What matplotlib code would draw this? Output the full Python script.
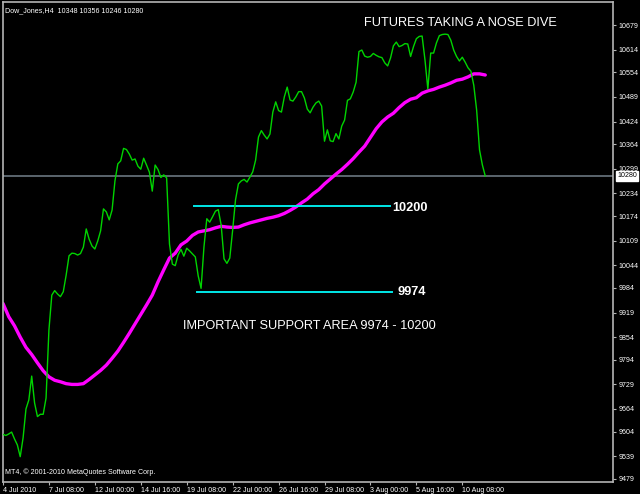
import matplotlib
matplotlib.use('Agg')
import matplotlib.pyplot as plt
import numpy as np

# H4 closes, one per bar
closes = [9597, 9594, 9598, 9603, 9585, 9569, 9538, 9588, 9664, 9688,
          9751, 9680, 9644, 9650, 9650, 9693, 9873, 9965, 9977, 9968,
          9961, 9974, 10018, 10069, 10076, 10075, 10071, 10075, 10092, 10140,
          10113, 10095, 10087, 10108, 10135, 10193, 10185, 10164, 10190, 10267,
          10312, 10320, 10353, 10350, 10338, 10322, 10325, 10306, 10298, 10327,
          10309, 10290, 10240, 10309, 10297, 10276, 10283, 10275, 10100, 10047,
          10043, 10071, 10086, 10068, 10089, 10082, 10074, 10066, 10016, 9983,
          10092, 10167, 10158, 10172, 10187, 10191, 10150, 10061, 10049, 10063,
          10137, 10217, 10259, 10267, 10271, 10264, 10277, 10291, 10322, 10383,
          10400, 10388, 10378, 10391, 10449, 10476, 10453, 10449, 10489, 10515,
          10481, 10478, 10489, 10503, 10503, 10486, 10457, 10447, 10462, 10473,
          10478, 10465, 10372, 10402, 10373, 10371, 10392, 10378, 10412, 10428,
          10480, 10484, 10502, 10528, 10609, 10613, 10597, 10594, 10596, 10604,
          10599, 10595, 10593, 10579, 10571, 10592, 10624, 10634, 10622, 10625,
          10630, 10629, 10596, 10622, 10643, 10649, 10650, 10587, 10510, 10605,
          10605, 10632, 10651, 10654, 10655, 10654, 10639, 10613, 10596, 10584,
          10594, 10581, 10566, 10557, 10520, 10454, 10349, 10309, 10280]

# moving average, sampled every 2 bars
ma_bars = list(range(0, 169, 2))
ma_values = [9943, 9908, 9884, 9854, 9827, 9808, 9786, 9765, 9749, 9740,
             9736, 9731, 9729, 9729, 9731, 9742, 9754, 9766, 9780, 9798,
             9817, 9840, 9864, 9889, 9914, 9939, 9965, 10000, 10032, 10063,
             10076, 10098, 10108, 10123, 10132, 10135, 10138, 10143, 10147, 10145,
             10144, 10145, 10151, 10156, 10160, 10164, 10168, 10171, 10175, 10181,
             10189, 10198, 10209, 10219, 10233, 10244, 10259, 10272, 10285, 10297,
             10311, 10326, 10343, 10359, 10382, 10405, 10423, 10436, 10446, 10461,
             10474, 10483, 10487, 10499, 10505, 10509, 10515, 10520, 10526, 10533,
             10536, 10542, 10550, 10550, 10547]

support_levels = [10200, 9974]
support_start = [66.5, 67.7]
support_end = [134.8, 135.5]

last_price = 10280

price_ticks = [10679, 10614, 10554, 10489, 10424, 10364, 10299, 10234, 10174, 10109,
               10044, 9984, 9919, 9854, 9794, 9729, 9664, 9604, 9539, 9479]
time_tick_bars = [0, 16, 32, 48, 64, 80, 96, 112, 128, 144, 160]
time_tick_labels = ['4 Jul 2010', '7 Jul 08:00', '12 Jul 00:00', '14 Jul 16:00',
                    '19 Jul 08:00', '22 Jul 00:00', '26 Jul 16:00', '29 Jul 08:00',
                    '3 Aug 00:00', '5 Aug 16:00', '10 Aug 08:00']

small = {'family': 'Liberation Sans', 'size': 5.1}
big = {'family': 'Liberation Sans', 'size': 9.2}

fig = plt.figure(figsize=(6.4, 4.94), dpi=100, facecolor='black')
ax = fig.add_axes([3 / 640, 12 / 494, 610 / 640, 480 / 494], facecolor='black')

ax.axhline(last_price, color='#6a7680', lw=1.2, zorder=1)
ax.plot(range(len(closes)), closes, color='#00d400', lw=1, zorder=3)
ax.plot(ma_bars, ma_values, color='#ff00ff', lw=2.4, zorder=2, solid_capstyle='round')
for lvl, x0, x1 in zip(support_levels, support_start, support_end):
    ax.plot([x0, x1], [lvl, lvl], color='#00e8e8', lw=1.4, zorder=2)

ax.set_xlim(0, 212.5)
ax.set_ylim(9471, 10740)

for s in ax.spines.values():
    s.set_color('#b4b4b4')
    s.set_linewidth(1.2)

ax.yaxis.tick_right()
ax.set_yticks(price_ticks)
ax.set_yticklabels([str(p) for p in price_ticks], fontdict=small)
ax.set_xticks(time_tick_bars)
ax.set_xticklabels(time_tick_labels, fontdict=small, ha='left')
ax.tick_params(axis='both', colors='#b4b4b4', length=2.5, width=0.8, pad=1.2)
for lab in ax.get_xticklabels() + ax.get_yticklabels():
    lab.set_color('white')

# annotations
ax.text(159.4, 10684, 'FUTURES TAKING A NOSE DIVE', color='white', ha='center', va='center', fontdict=big)
ax.text(135.5, 10195, '10200', color='white', ha='left', va='center', fontdict=big, fontweight='bold')
ax.text(137.6, 9973, '9974', color='white', ha='left', va='center', fontdict=big, fontweight='bold')
ax.text(62.7, 9883, 'IMPORTANT SUPPORT AREA 9974 - 10200', color='white', ha='left', va='center', fontdict=big)

ax.text(0.004, 0.99, 'Dow_Jones,H4  10348 10356 10246 10280', transform=ax.transAxes,
        color='white', ha='left', va='top', fontdict=small)
ax.text(0.003, 0.012, 'MT4, \u00a9 2001-2010 MetaQuotes Software Corp.', transform=ax.transAxes,
        color='white', ha='left', va='bottom', fontdict=small)

# current price box on the scale
ax.annotate(str(last_price), xy=(1.0, last_price), xycoords=('axes fraction', 'data'),
            xytext=(3, 0), textcoords='offset points', ha='left', va='center',
            fontsize=5.1, family='Liberation Sans', color='black',
            bbox=dict(boxstyle='square,pad=0.15', fc='white', ec='white'))

fig.savefig('out.png', dpi=100, facecolor='black')
